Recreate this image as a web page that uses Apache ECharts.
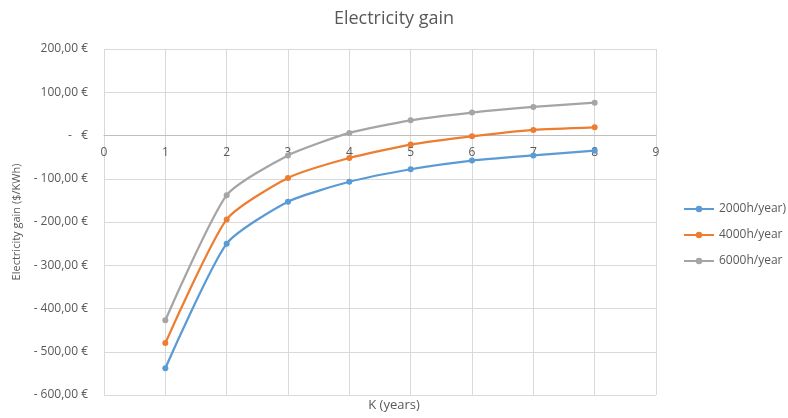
<!DOCTYPE html>
<html>
<head>
<meta charset="utf-8">
<script src="https://cdn.jsdelivr.net/npm/echarts@6/dist/echarts.min.js"></script>
<style>html,body{margin:0;padding:0;background:#fff;}#c{width:788px;height:418px;}</style>
</head>
<body>
<div id="c"></div>
<script>
var years = [1, 2, 3, 4, 5, 6, 7, 8];
var seriesNames = ['2000h/year)', '4000h/year', '6000h/year'];
var gain2000 = [-538, -250, -153, -107, -78, -58, -46, -35];
var gain4000 = [-480, -194, -98, -52, -21, -2, 13, 19];
var gain6000 = [-427, -138, -46, 6, 35, 53, 66, 76];
var colors = ['#5b9bd5', '#ed7d31', '#a5a5a5'];

function pairs(xs, ys) { return xs.map(function (x, i) { return [x, ys[i]]; }); }
function fmtY(v) {
  if (v === 0) return '-   €';
  var s = Math.abs(v).toFixed(2).replace('.', ',') + ' €';
  return v < 0 ? '- ' + s : s;
}
var font = 'Open Sans, Liberation Sans, sans-serif';
var txt = '#595959';
var all = [gain2000, gain4000, gain6000];
var gridTop = 49, gridBottom = 23, H = 418;
var yMin = -600, yMax = 200;
var plotH = H - gridTop - gridBottom;
var zeroOffset = -plotH * (0 - yMin) / (yMax - yMin);
var chart = echarts.init(document.getElementById('c'));
chart.setOption({
  animation: false,
  color: colors,
  title: {
    text: 'Electricity gain', left: 'center', top: 5,
    textStyle: { fontFamily: font, fontSize: 18, fontWeight: 'normal', color: txt }
  },
  legend: {
    orient: 'vertical', left: 678, top: 198, itemGap: 14, itemWidth: 30, itemHeight: 8,
    textStyle: { fontFamily: font, fontSize: 12, color: txt },
    data: seriesNames
  },
  grid: { left: 104, right: 132, top: gridTop, bottom: gridBottom, containLabel: false },
  xAxis: {
    type: 'value', min: 0, max: 9, interval: 1,
    offset: zeroOffset,
    axisLine: { onZero: false, lineStyle: { color: '#bfbfbf', width: 1 } },
    axisTick: { show: false },
    axisLabel: { fontFamily: font, fontSize: 12, color: txt, margin: 11 },
    splitLine: { show: true, lineStyle: { color: '#d9d9d9' } }
  },
  yAxis: {
    type: 'value', min: yMin, max: yMax, interval: 100,
    name: 'Electricity gain ($/KWh)', nameLocation: 'middle', nameGap: 82, nameRotate: 90,
    nameTextStyle: { fontFamily: font, fontSize: 11, color: txt },
    axisLine: { show: false }, axisTick: { show: false },
    axisLabel: { fontFamily: font, fontSize: 12, color: txt, margin: 16, formatter: fmtY },
    splitLine: { show: true, lineStyle: { color: '#d9d9d9' } }
  },
  graphic: [{
    type: 'text', left: 'center', top: 399,
    style: { text: 'K (years)', font: '13px ' + font, fill: txt }
  }],
  series: all.map(function (d, i) {
    return {
      name: seriesNames[i], type: 'line', smooth: 0.2,
      data: pairs(years, d), symbol: 'circle', symbolSize: 6,
      lineStyle: { width: 2.25, color: colors[i] },
      itemStyle: { color: colors[i] }
    };
  })
});
</script>
</body>
</html>
